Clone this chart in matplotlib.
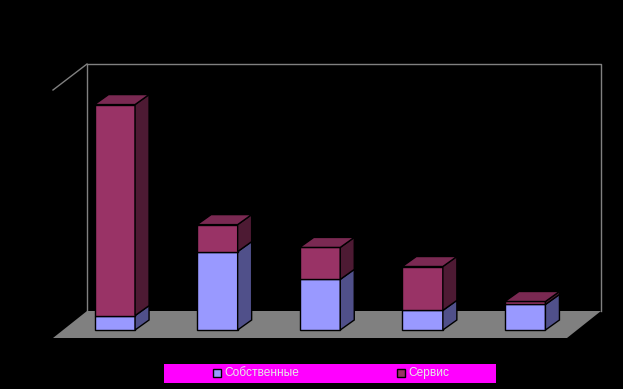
# coding=utf-8
import matplotlib
matplotlib.use('Agg')
import matplotlib.pyplot as plt

# values in percent of the value axis
categories = [0, 1, 2, 3, 4]
own = [5.8, 31.6, 20.4, 7.9, 10.3]
service = [85.1, 10.9, 12.9, 17.7, 1.2]
legend_labels = ['Собственные', 'Сервис']

W, H = 623, 389
# px per unit on both axes of the full-figure axes
x_step = 102.6
y_step = 2.48
x0_px = 114.8
y0_px = 330.0

bar_w = 40.5 / x_step
dx = 14 / x_step
dy = 10 / y_step

fig = plt.figure(figsize=(W / 100, H / 100), dpi=100, facecolor='black')
ax = fig.add_axes([0, 0, 1, 1])
ax.set_facecolor('black')
ax.set_xlim(-x0_px / x_step, (W - x0_px) / x_step)
ax.set_ylim((y0_px - H) / y_step, y0_px / y_step)
ax.axis('off')


def px(x, y):
    return (x - x0_px) / x_step, (y0_px - y) / y_step


# floor
fx, fy = zip(px(53, 338), px(87, 311), px(601, 311), px(567, 338))
ax.fill(fx, fy, color='#808080', lw=0, zorder=1)

# back wall and the left edge
wx, wy = zip(px(87, 311), px(87, 64), px(601, 64), px(601, 311))
ax.plot(wx, wy, color='#808080', lw=1, zorder=2)
ex, ey = zip(px(53, 90), px(87, 64))
ax.plot(ex, ey, color='#808080', lw=1, zorder=2)


def block(x, bottom, height, front, side, top=None):
    left = x - bar_w / 2
    right = x + bar_w / 2
    ax.bar(x, height, width=bar_w, bottom=bottom, color=front, edgecolor='black', lw=1, zorder=3)
    sx = [right, right + dx, right + dx, right]
    sy = [bottom, bottom + dy, bottom + height + dy, bottom + height]
    ax.fill(sx, sy, facecolor=side, edgecolor='black', lw=1, zorder=3)
    if top:
        tx = [left, left + dx, right + dx, right]
        ty = [bottom + height, bottom + height + dy, bottom + height + dy, bottom + height]
        ax.fill(tx, ty, facecolor=top, edgecolor='black', lw=1, zorder=3)


for c, a, b in zip(categories, own, service):
    block(c, 0, a, '#9999FF', '#50508A')
    block(c, a, b, '#993366', '#4D1A33', '#7A2952')

# legend box
lx, ly = zip(px(164, 364), px(496, 364), px(496, 383), px(164, 383))
ax.fill(lx, ly, color='#FF00FF', lw=0, zorder=4)
for label, sw, col in zip(legend_labels, [213, 397], ['#9999FF', '#993366']):
    sx, sy = zip(px(sw, 369), px(sw + 8, 369), px(sw + 8, 377), px(sw, 377))
    ax.fill(sx, sy, facecolor=col, edgecolor='black', lw=1, zorder=5)
    tx, ty = px(sw + 11, 373)
    ax.text(tx, ty, label, color='#E8E8E8', fontsize=8.6, family='Liberation Sans', va='center', ha='left', zorder=5)

fig.savefig('out.png', dpi=100, facecolor='black')
